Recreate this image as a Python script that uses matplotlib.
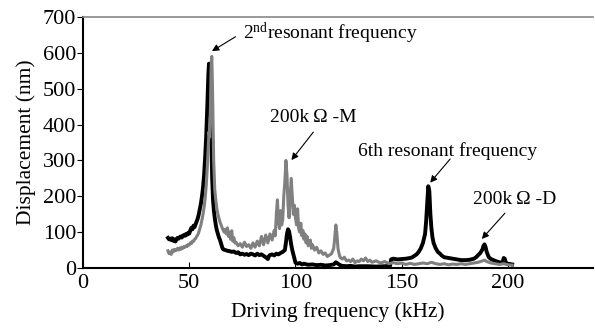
import matplotlib
matplotlib.use("Agg")
from matplotlib import pyplot as plt

plt.rcParams['font.family'] = ['Liberation Serif', 'DejaVu Serif']
plt.rcParams['mathtext.fontset'] = 'custom'
plt.rcParams['mathtext.rm'] = 'Liberation Serif'
plt.rcParams['mathtext.it'] = 'Liberation Serif:italic'

# driven response, 200k ohm - D (black)
freq_d = [40, 40.5, 41, 41.5, 42, 42.5, 43, 43.5, 44, 44.5, 45, 45.5, 46, 46.5, 47, 47.5, 48, 48.5, 49, 49.5,
          50, 50.5, 51, 51.5, 52, 52.5, 53, 53.5, 54, 54.5, 55, 55.5, 56, 56.5, 57, 57.5, 58, 58.5, 59, 59.3,
          59.6, 60, 60.4, 60.8, 61.2, 61.6, 62, 62.5, 63, 63.5, 64, 64.5, 65, 65.5, 66, 67, 68, 69, 70, 71,
          72, 73, 74, 75, 76, 77, 78, 79, 80, 81, 82, 83, 84, 85, 86, 87, 87.5, 88, 89, 90,
          91, 92, 93, 94, 95, 95.5, 96, 96.5, 97, 97.5, 98, 98.5, 99, 99.5, 100, 101, 102, 103, 104, 106,
          108, 110, 112, 114, 116, 118, 119, 120, 121, 122, 124, 126, 128, 130, 134, 138, 142, 144.5, 145, 146,
          148, 150, 152, 154, 155, 156, 157, 158, 159, 160, 161, 161.5, 162, 162.5, 163, 163.5, 164, 164.5, 165, 166,
          167, 168, 169, 170, 172, 174, 176, 178, 180, 182, 184, 185, 186, 187, 188, 188.5, 189, 189.5, 190, 191,
          192, 194, 196, 197.5, 198, 198.5, 199, 200, 202]
disp_d = [84, 80, 82, 78, 83, 76, 80, 74, 80, 84, 82, 86, 88, 85, 90, 92, 90, 95, 93, 98,
          96, 105, 112, 108, 118, 114, 122, 130, 138, 150, 165, 180, 200, 225, 260, 310, 370, 450, 540, 570,
          555, 480, 360, 250, 190, 160, 140, 120, 105, 95, 85, 78, 68, 58, 52, 50, 48, 47, 45, 46,
          42, 44, 38, 40, 37, 39, 36, 40, 38, 35, 40, 36, 38, 34, 30, 25, 33, 36, 38, 35,
          40, 38, 42, 45, 50, 70, 95, 108, 102, 85, 65, 50, 38, 25, 15, 12, 14, 10, 12, 9,
          10, 8, 9, 7, 8, 10, 16, 12, 8, 6, 5, 6, 4, 5, 5, 4, 5, 6, 24, 26,
          24, 25, 26, 28, 30, 34, 38, 45, 55, 70, 95, 130, 180, 228, 215, 150, 110, 85, 70, 55,
          45, 40, 34, 30, 28, 26, 24, 22, 22, 23, 26, 30, 36, 42, 52, 62, 66, 58, 45, 30,
          25, 20, 16, 15, 28, 26, 14, 12, 10]

# driven response, 200k ohm - M (gray)
freq_m = [40, 40.5, 41, 41.5, 42, 42.5, 43, 43.5, 44, 44.5, 45, 45.5, 46, 46.5, 47, 47.5, 48, 48.5, 49, 49.5,
          50, 50.5, 51, 51.5, 52, 52.5, 53, 53.5, 54, 54.5, 55, 55.5, 56, 56.5, 57, 57.5, 58, 58.5, 59, 59.3,
          59.6, 60, 60.3, 60.6, 60.9, 61.2, 61.5, 62, 62.5, 63, 63.5, 64, 64.5, 65, 65.5, 66, 66.5, 67, 67.5, 68,
          68.5, 69, 69.5, 70, 70.5, 71, 71.5, 72, 73, 74, 75, 76, 77, 78, 79, 80, 81, 82, 83, 84,
          85, 86, 87, 88, 89, 90, 90.5, 91, 91.5, 92, 92.5, 93, 93.5, 94, 94.5, 95, 95.5, 96, 96.5, 97,
          97.5, 98, 98.5, 99, 99.5, 100, 100.5, 101, 101.5, 102, 102.5, 103, 103.5, 104, 104.5, 105, 105.5, 106, 107, 107.5,
          108, 109, 110, 111, 112, 113, 114, 115, 116, 117, 118, 118.5, 119, 119.5, 120, 120.5, 121, 122, 123, 124,
          125, 126, 127, 128, 129, 130, 131, 132, 133, 134, 135, 136, 138, 140, 142, 144, 146, 148, 150, 152,
          154, 156, 158, 160, 162, 164, 166, 168, 170, 172, 174, 176, 178, 180, 182, 184, 186, 188, 189, 190,
          192, 194, 196, 198, 200, 202]
disp_m = [48, 40, 44, 38, 50, 45, 52, 48, 50, 55, 50, 56, 52, 58, 55, 60, 58, 62, 60, 66,
          64, 70, 68, 75, 74, 80, 82, 88, 92, 100, 110, 120, 135, 150, 170, 195, 230, 280, 340, 380,
          365, 450, 560, 590, 520, 400, 300, 220, 190, 165, 150, 138, 128, 120, 112, 105, 100, 108, 95, 112,
          88, 100, 80, 104, 75, 85, 70, 72, 62, 68, 58, 72, 60, 65, 55, 70, 58, 75, 62, 88,
          65, 92, 70, 95, 78, 105, 90, 150, 190, 130, 110, 160, 120, 135, 200, 240, 300, 260, 175, 140,
          195, 250, 200, 150, 175, 140, 120, 165, 110, 100, 125, 90, 105, 80, 95, 70, 88, 62, 78, 55,
          65, 50, 58, 42, 48, 38, 42, 32, 36, 40, 55, 85, 120, 95, 55, 40, 30, 25, 30, 20,
          22, 18, 25, 15, 20, 18, 25, 20, 28, 18, 22, 16, 20, 14, 18, 12, 15, 12, 14, 10,
          13, 10, 12, 14, 12, 16, 12, 10, 12, 9, 11, 10, 12, 10, 12, 14, 16, 20, 22, 18,
          14, 12, 10, 12, 9, 8]

x_ticks = [0, 50, 100, 150, 200]
y_ticks = [0, 100, 200, 300, 400, 500, 600, 700]

fig = plt.figure(figsize=(5.95, 3.31), dpi=100)
ax = fig.add_axes([0.1395, 0.1903, 0.857, 0.7583])

ax.plot(freq_d, disp_d, color='black', lw=2.8, solid_joinstyle='round', zorder=2)
ax.plot(freq_m, disp_m, color='#808080', lw=2.2, solid_joinstyle='round', zorder=3)

ax.set_xlim(0, 240)
ax.set_ylim(0, 700)
ax.set_xticks(x_ticks)
ax.set_yticks(y_ticks)
ax.tick_params(axis='x', direction='in', length=4, labelsize=16, pad=4)
ax.tick_params(axis='y', direction='out', length=4, labelsize=16, pad=1)

ax.spines['right'].set_visible(False)
ax.spines['top'].set_color('#888888')
ax.spines['top'].set_linewidth(1.2)
ax.spines['left'].set_linewidth(1.5)
ax.spines['bottom'].set_linewidth(1.5)

ax.set_xlabel('Driving frequency (kHz)', fontsize=15.5, labelpad=7)
ax.set_ylabel('Displacement (nm)', fontsize=15.5, labelpad=5)

arrow = dict(arrowstyle='-|>', color='black', lw=0.8, mutation_scale=10, shrinkA=0, shrinkB=0)

ax.text(75.5, 655, r'2$^{\mathrm{nd}}$resonant frequency', fontsize=14, va='center', ha='left')
ax.annotate('', xy=(60.7, 605), xytext=(71.8, 645), arrowprops=arrow)

ax.text(108.4, 421, '200k\u2009Ω -M', fontsize=14, va='center', ha='center')
ax.annotate('', xy=(98.1, 301), xytext=(108.4, 379), arrowprops=arrow)

ax.text(171.4, 326, '6th resonant frequency', fontsize=14, va='center', ha='center')
ax.annotate('', xy=(163.4, 238), xytext=(172.8, 304), arrowprops=arrow)

ax.text(203, 190, '200k\u2009Ω -D', fontsize=14, va='center', ha='center')
ax.annotate('', xy=(187.7, 81), xytext=(198.6, 153), arrowprops=arrow)

fig.savefig('out.png', dpi=100)
